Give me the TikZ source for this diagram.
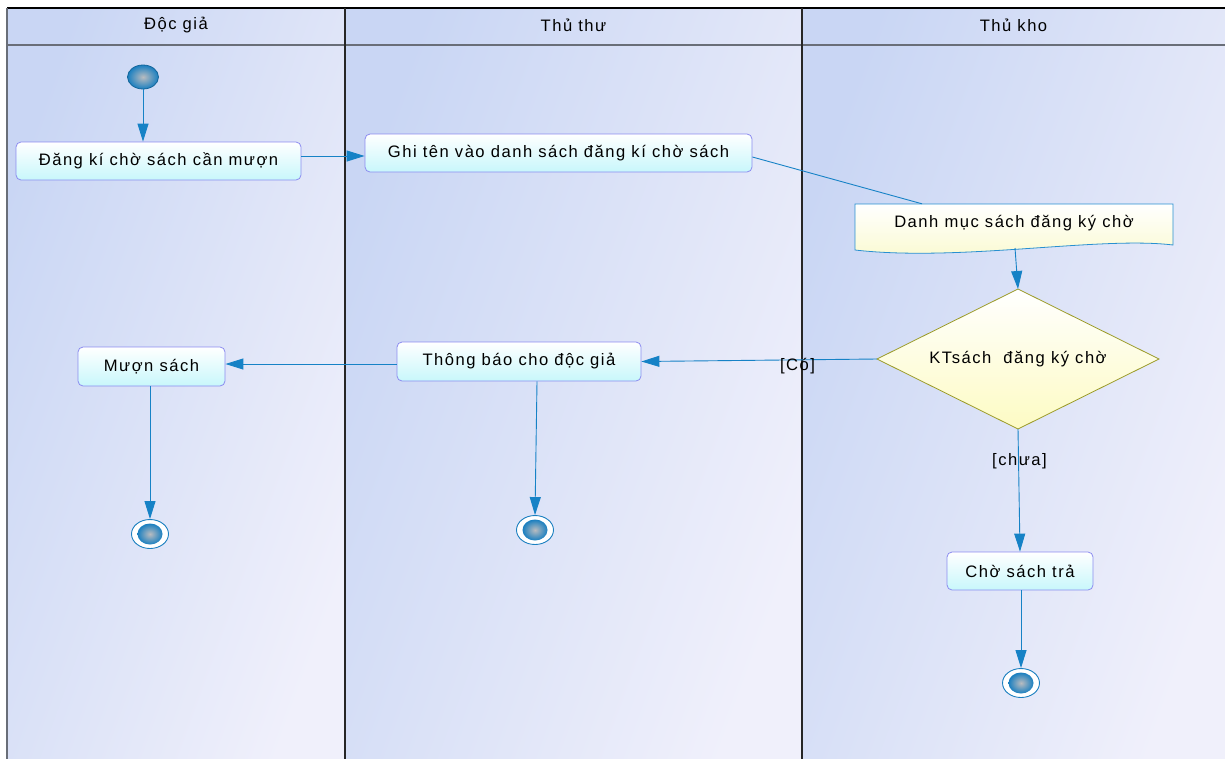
\documentclass[tikz,border=0pt]{standalone}
\usepackage{fontspec}
\setmainfont{Liberation Sans}[LetterSpace=9]
\usetikzlibrary{shapes.geometric,arrows.meta}
\definecolor{flowblue}{RGB}{22,130,198}
\definecolor{actborder}{RGB}{140,140,240}
\definecolor{actcyan}{RGB}{200,247,251}
\definecolor{laneA}{RGB}{201,214,244}
\definecolor{laneB}{RGB}{240,240,251}
\definecolor{gridgray}{RGB}{105,110,120}
\definecolor{docborder}{RGB}{40,144,208}
\definecolor{docfill}{RGB}{250,250,205}
\definecolor{decborder}{RGB}{155,155,40}
\definecolor{decfill}{RGB}{253,251,195}
\definecolor{dotgray}{RGB}{185,188,192}
\definecolor{dotblue}{RGB}{26,127,192}
\tikzset{
  txt/.style={font=\fontsize{16.6}{19}\selectfont, text=black},
  lanebg/.style={left color=laneA, right color=laneB, shading angle=70, draw=none},
  activity/.style={txt, rectangle, rounded corners=5pt, draw=actborder, line width=0.8pt,
    top color=white, bottom color=actcyan, inner sep=0pt},
  flow/.style={draw=flowblue, line width=0.9pt, -{Triangle[length=18pt,width=11pt]}},
  plainflow/.style={draw=flowblue, line width=0.9pt},
  startdot/.style={ellipse, minimum width=31pt, minimum height=24pt, inner sep=0pt,
    draw=dotblue!80!black, line width=0.8pt, inner color=dotgray, outer color=dotblue},
  endring/.style={ellipse, minimum width=37pt, minimum height=29pt, inner sep=0pt,
    draw=dotblue, line width=0.9pt, fill=white},
  enddot/.style={ellipse, minimum width=25pt, minimum height=21pt, inner sep=0pt,
    draw=none, inner color=dotgray, outer color=dotblue},
  decision/.style={txt, diamond, aspect=2.014, minimum width=282pt, minimum height=140pt,
    inner sep=0pt, outer sep=0pt,
    draw=decborder, line width=0.8pt, top color=white, bottom color=decfill},
  guard/.style={txt, inner sep=1pt},
}
\begin{document}
\begin{tikzpicture}[x=1pt,y=-1pt]
\useasboundingbox (0,0) rectangle (1225,758);
\clip (0,0) rectangle (1225,758);
\fill[white] (0,0) rectangle (1225,758);

% swimlane backgrounds
\shade[lanebg] (7,8) rectangle (345,760);
\shade[lanebg] (345,8) rectangle (802,760);
\shade[lanebg] (802,8) rectangle (1226,760);

% lane frame
\draw[black, line width=1.2pt] (7,8) -- (1226,8);
\draw[gridgray, line width=1.5pt] (7,45) -- (1226,45);
\draw[gridgray, line width=1.5pt] (7,8) -- (7,760);
\draw[black!85, line width=1.2pt] (345,8) -- (345,760);
\draw[black!85, line width=1.2pt] (802,8) -- (802,760);

% lane titles
\node[txt] (h1) at (176,25) {Độc giả};
\node[txt] (h2) at (573.5,25) {Thủ thư};
\node[txt] (h3) at (1013.5,25) {Thủ kho};

% start node
\node[startdot] (start) at (143,77) {};

% activities
\node[activity, minimum width=285pt, minimum height=38pt] (dangki) at (158.5,161) {Đăng kí chờ sách cần mượn};
\node[activity, minimum width=387pt, minimum height=38pt] (ghiten) at (558.5,153) {Ghi tên vào danh sách đăng kí chờ sách};
\node[activity, minimum width=244pt, minimum height=39pt] (thongbao) at (519,361.5) {Thông báo cho độc giả};
\node[activity, minimum width=147pt, minimum height=39pt] (muon) at (151.5,366.5) {Mượn sách};
\node[activity, minimum width=146pt, minimum height=38pt] (cho) at (1020,571) {Chờ sách trả};

% object node (document shape with wavy bottom)
\path[draw=docborder, line width=0.8pt, top color=white, bottom color=docfill]
  (855,204) -- (1173,204) -- (1173,245)
  .. controls (1100,236) and (960,262) .. (855,250) -- cycle;
\node[txt, minimum width=318pt, minimum height=44pt, inner sep=0pt] (danhmuc) at (1014,226) {};
\node[txt] (danhmuctext) at (1014,223) {Danh mục sách đăng ký chờ};
\coordinate (docbottom) at (1015,248);

% decision
\node[decision] (kt) at (1018,359) {KTsách\ \ đăng ký chờ};

% final nodes
\node[endring] (end1) at (150,534) {};
\node[enddot] at (end1) {};
\node[endring] (end2) at (535,530) {};
\node[enddot] at (end2) {};
\node[endring] (end3) at (1021,683) {};
\node[enddot] at (end3) {};

% control flows
\draw[flow] (start) -- (start |- dangki.north);
\draw[flow] ([yshift=5pt]dangki.east) -- ([yshift=-3pt]ghiten.west);
\draw[plainflow] ([yshift=-4pt]ghiten.east) -- (danhmuc.north -| 922,0);
\draw[flow] (docbottom) -- (kt.north);
\draw[flow] (kt.west) -- (thongbao.east);
\node[guard] (co) at (797.5,366.5) {[Có]};
\draw[flow] ([yshift=-2.5pt]thongbao.west) -- ([yshift=2.5pt]muon.east);
\draw[flow] (kt.south) -- (cho.north);
\node[guard] (chua) at (1019.5,461) {[chưa]};
\draw[flow] (muon.south -| 150,0) -- (end1.north);
\draw[flow] (thongbao.south -| 537,0) -- (end2.north);
\draw[flow] (cho.south -| 1021,0) -- (end3.north);
\end{tikzpicture}
\end{document}
